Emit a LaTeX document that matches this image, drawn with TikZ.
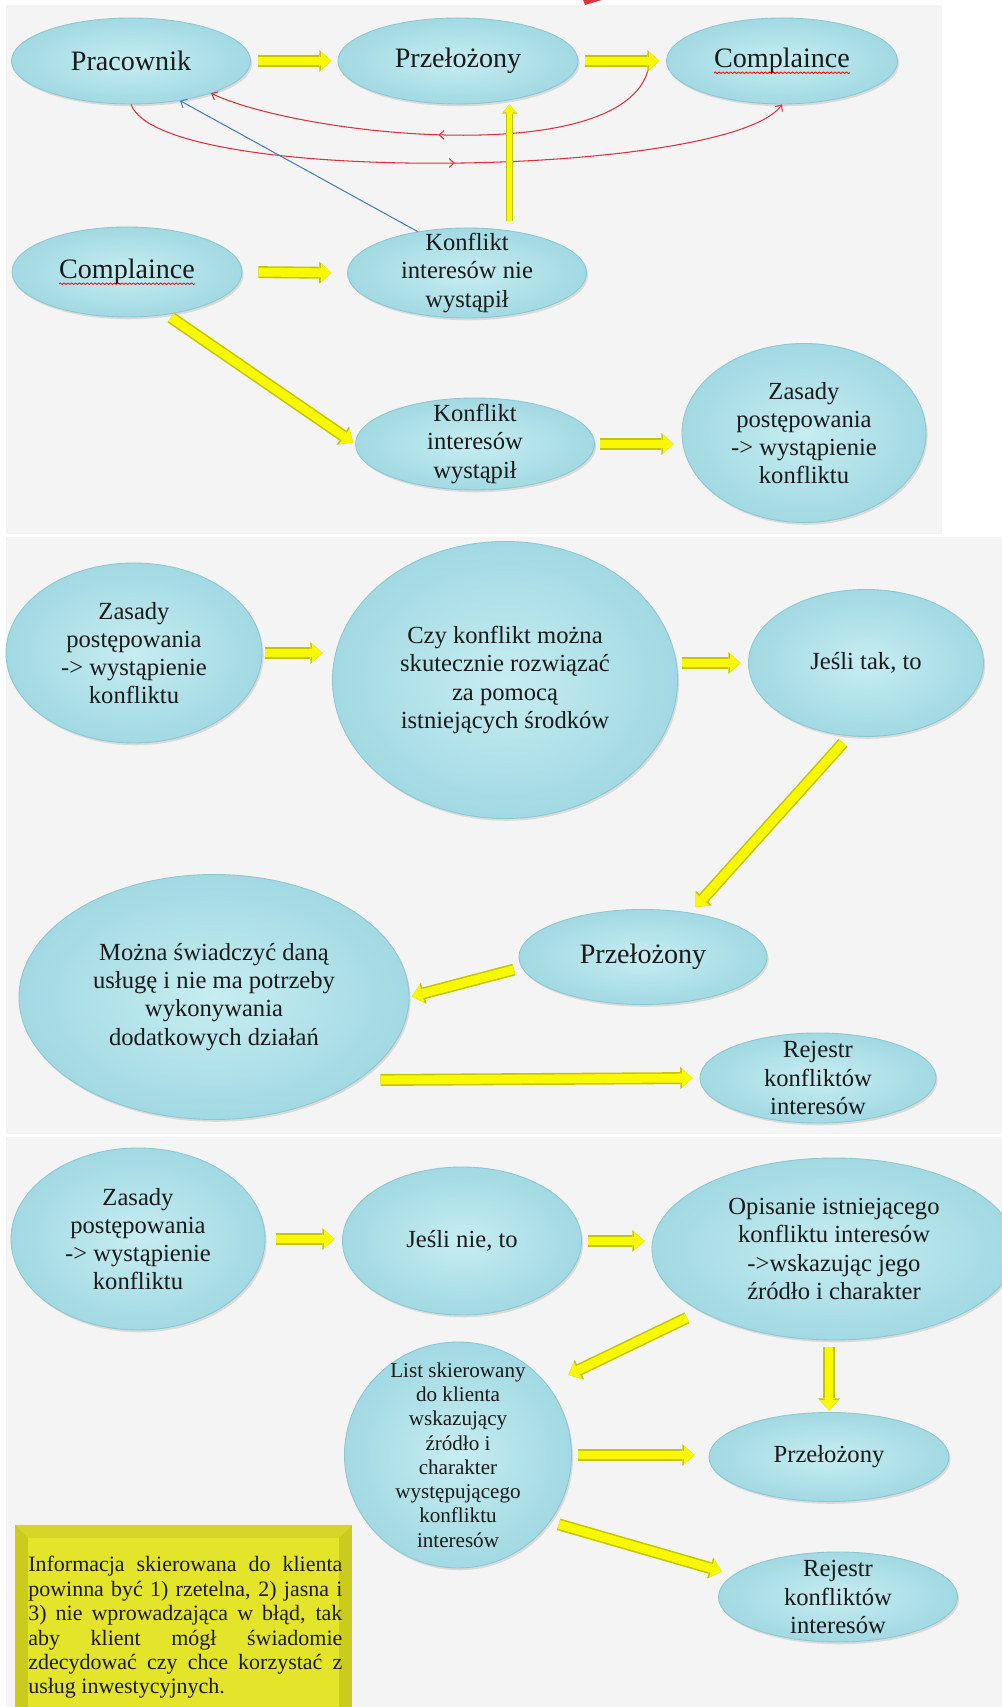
\documentclass[tikz,border=0pt]{standalone}
\usepackage{fontspec}
\setmainfont{Liberation Serif}
\usetikzlibrary{arrows.meta,calc,shapes.geometric,shadows,decorations.markings,decorations.pathmorphing}
\definecolor{ink}{HTML}{1A1A1A}
\definecolor{panel}{HTML}{F4F4F4}
\definecolor{bubblein}{HTML}{C6EDF2}
\definecolor{bubbleout}{HTML}{A2D9E2}
\definecolor{bubbleedge}{HTML}{8DC8D2}
\definecolor{flowfill}{HTML}{F8F800}
\definecolor{flowedge}{HTML}{C6C600}
\definecolor{arcred}{HTML}{E0313B}
\definecolor{linkblue}{HTML}{4A7EBB}
\definecolor{notefill}{HTML}{E4E42B}
\definecolor{notetop}{HTML}{D6D629}
\definecolor{notedark}{HTML}{CBCB1E}

\begin{document}
\begin{tikzpicture}[
  bubble/.style={
    ellipse,
    draw=bubbleedge,
    line width=0.5pt,
    inner color=bubblein,
    outer color=bubbleout,
    drop shadow={shadow xshift=0.9pt, shadow yshift=-1.3pt, opacity=0.22},
    inner sep=-0.4cm,
    align=center,
    text=ink,
    font=\fontsize{14}{16}\selectfont
  },
  ellsize/.style 2 args={minimum width=#1, minimum height=#2},
  big/.style={font=\fontsize{16}{19}\selectfont},
  small/.style={font=\fontsize{12}{13.8}\selectfont},
  flow/.style={
    draw=flowfill, line width=5pt,
    -{Triangle[length=6pt,width=10.5pt,line width=0pt]},
    preaction={draw=flowedge, line width=6.8pt,
      -{Triangle[length=7pt,width=12.5pt,line width=0pt]}}
  },
  flowthin/.style={
    draw=flowfill, line width=3pt,
    -{Triangle[length=4.5pt,width=7pt,line width=0pt]},
    preaction={draw=flowedge, line width=4.4pt,
      -{Triangle[length=5.2pt,width=8.6pt,line width=0pt]}}
  },
  backarc/.style={
    draw=arcred, line width=0.6pt,
    -{Straight Barb[length=2.8pt,width=5pt]},
    postaction={decorate, decoration={markings,
      mark=at position 0.5 with {\arrow{Straight Barb[length=2.8pt,width=5pt]}}}}
  },
  bluelink/.style={draw=linkblue, line width=0.6pt, -{Straight Barb[length=3pt,width=5.5pt]}},
  spellmark/.style={draw=red, line width=0.45pt, decorate,
    decoration={snake, amplitude=0.45pt, segment length=2.2pt}},
  notetext/.style={text width=6.28cm, align=justify, inner sep=0pt,
    font=\fontsize{12.5}{13.9}\selectfont, text=ink}
]

\useasboundingbox (0,0) rectangle (20.04,34.14);
\fill[white] (0,0) rectangle (20.04,34.14);
% three screenshot panels
\fill[panel] (0.12,23.46) rectangle (18.84,34.04);
\fill[panel] (0.12,11.46) rectangle (20.04,23.40);
\fill[panel] (0.12,0) rectangle (20.04,11.40);
\fill[arcred] (11.64,34.20) -- (12.24,34.20) -- (11.70,34.04) -- cycle;

% panel 1
\node[bubble, big, ellsize={4.78cm}{1.72cm}] (prac) at (2.62,32.92) {Pracownik};
\node[bubble, big, ellsize={4.80cm}{1.72cm}] (przel) at (9.16,32.92) {Przełożony};
\node[bubble, big, ellsize={4.62cm}{1.72cm}] (compl1) at (15.64,32.92) {Complaince};
\node[bubble, big, ellsize={4.60cm}{1.80cm}] (compl2) at (2.54,28.70) {Complaince};
\node[bubble, ellsize={4.78cm}{1.80cm}] (konfnie) at (9.34,28.68) {Konflikt\\interesów nie\\wystąpił};
\node[bubble, ellsize={4.78cm}{1.84cm}] (konftak) at (9.50,25.26) {Konflikt\\interesów\\wystąpił};
\node[bubble, ellsize={4.88cm}{3.58cm}] (zasady1) at (16.08,25.48) {Zasady\\postępowania\\-> wystąpienie\\konfliktu};

% panel 2
\node[bubble, ellsize={5.12cm}{3.60cm}] (zasady2) at (2.68,21.08) {Zasady\\postępowania\\-> wystąpienie\\konfliktu};
\node[bubble, ellsize={6.90cm}{5.54cm}] (czy) at (10.10,20.54) {Czy konflikt można\\skutecznie rozwiązać\\za pomocą\\istniejących środków};
\node[bubble, ellsize={4.70cm}{2.94cm}] (jtak) at (17.32,20.88) {Jeśli tak, to};
\node[bubble, big, ellsize={4.96cm}{1.90cm}] (przel2) at (12.86,15.00) {Przełożony};
\node[bubble, ellsize={7.80cm}{4.90cm}] (mozna) at (4.28,14.20) {Można świadczyć daną\\usługę i nie ma potrzeby\\wykonywania\\dodatkowych działań};
\node[bubble, ellsize={4.72cm}{1.80cm}] (rejestr1) at (16.36,12.58) {Rejestr\\konfliktów\\interesów};

% panel 3
\node[bubble, ellsize={5.08cm}{3.64cm}] (zasady3) at (2.76,9.36) {Zasady\\postępowania\\-> wystąpienie\\konfliktu};
\node[bubble, ellsize={4.78cm}{2.96cm}] (jnie) at (9.24,9.32) {Jeśli nie, to};
\node[bubble, ellsize={7.28cm}{3.64cm}] (opis) at (16.68,9.16) {Opisanie istniejącego\\konfliktu interesów\\->wskazując jego\\źródło i charakter};
\node[bubble, small, ellsize={4.54cm}{4.52cm}] (list) at (9.16,5.04) {List skierowany\\do klienta\\wskazujący\\źródło i\\charakter\\występującego\\konfliktu\\interesów};
\node[bubble, ellsize={4.80cm}{1.78cm}] (przel3) at (16.58,5.00) {Przełożony};
\node[bubble, ellsize={4.78cm}{1.80cm}] (rejestr2) at (16.76,2.20) {Rejestr\\konfliktów\\interesów};

% note box
\fill[notedark] (0.30,-0.20) rectangle (7.04,3.64);
\fill[notetop] (0.30,3.64) -- (7.04,3.64) -- (6.78,3.38) -- (0.56,3.38) -- cycle;
\fill[notefill] (0.56,-0.20) rectangle (6.78,3.38);
\node[notetext, anchor=north west] (note) at (0.56,3.02) {Informacja skierowana do klienta\linebreak
  powinna być 1) rzetelna, 2) jasna i\linebreak
  3) nie wprowadzająca w błąd, tak\linebreak
  aby klient mógł świadomie\linebreak
  zdecydować czy chce korzystać z\linebreak
  usług inwestycyjnych.};

\draw[spellmark] ($(compl1.base)+(-1.36,-0.10)$) -- ++(2.72,0);
\draw[spellmark] ($(compl2.base)+(-1.36,-0.10)$) -- ++(2.72,0);

% feedback loops
\coordinate (arcstart) at ($(compl1.west)+(-0.36,-0.18)$);
\draw[backarc] (arcstart) to[out=-105, in=-25, looseness=0.6] (prac.-22);
\draw[backarc] (prac.south) to[out=-70, in=-125, looseness=0.35] (compl1.south);
\draw[bluelink] (konfnie.140) -- (prac.-39);

% yellow flow arrows
\draw[flow, shorten <=0.15cm, shorten >=0.12cm] (prac.east) -- (przel.west);
\draw[flow, shorten <=0.14cm, shorten >=0.13cm] (przel.east) -- (compl1.west);
\draw[flowthin, shorten <=0.18cm] (konfnie.45) -- (konfnie.45 |- przel.south);
\draw[flow, shorten <=0.32cm, shorten >=0.31cm] (compl2.east) -- (konfnie.west);
\draw[flow, shorten <=0.10cm, shorten >=0.05cm] (compl2.-47) -- (konftak.west);
\draw[flow, shorten <=0.10cm, shorten >=0.16cm] (konftak.east) -- (konftak.east -| zasady1.west);
\draw[flow, shorten <=0.06cm, shorten >=0.19cm] (zasady2.east) -- (zasady2.east -| czy.west);
\draw[flow, shorten <=0.09cm, shorten >=0.15cm] (jtak.west -| czy.east) -- (jtak.west);
\draw[flow, shorten <=0.18cm, shorten >=0.15cm] (jtak.-103) -- (przel2.43);
\draw[flow, shorten <=0.16cm, shorten >=0.05cm] (przel2.185) -- (mozna.east);
\draw[flow, shorten <=0.45cm, shorten >=0.14cm] (mozna.-30) -- (rejestr1.west);
\draw[flow, shorten <=0.22cm, shorten >=0.15cm] (zasady3.east) -- (zasady3.east -| jnie.west);
\draw[flow, shorten <=0.13cm, shorten >=0.14cm] (jnie.east) -- (jnie.east -| opis.west);
\draw[flow, shorten <=0.30cm, shorten >=0.46cm] (opis.205) -- (list.38);
\draw[flow, shorten <=0.14cm, shorten >=0.03cm] (opis.south -| przel3.north) -- (przel3.north);
\draw[flow, shorten <=0.13cm, shorten >=0.28cm] (list.east) -- (list.east -| przel3.west);
\draw[flow, shorten <=0.18cm, shorten >=0.24cm] (list.-36) -- (rejestr2.168);

\end{tikzpicture}
\end{document}
